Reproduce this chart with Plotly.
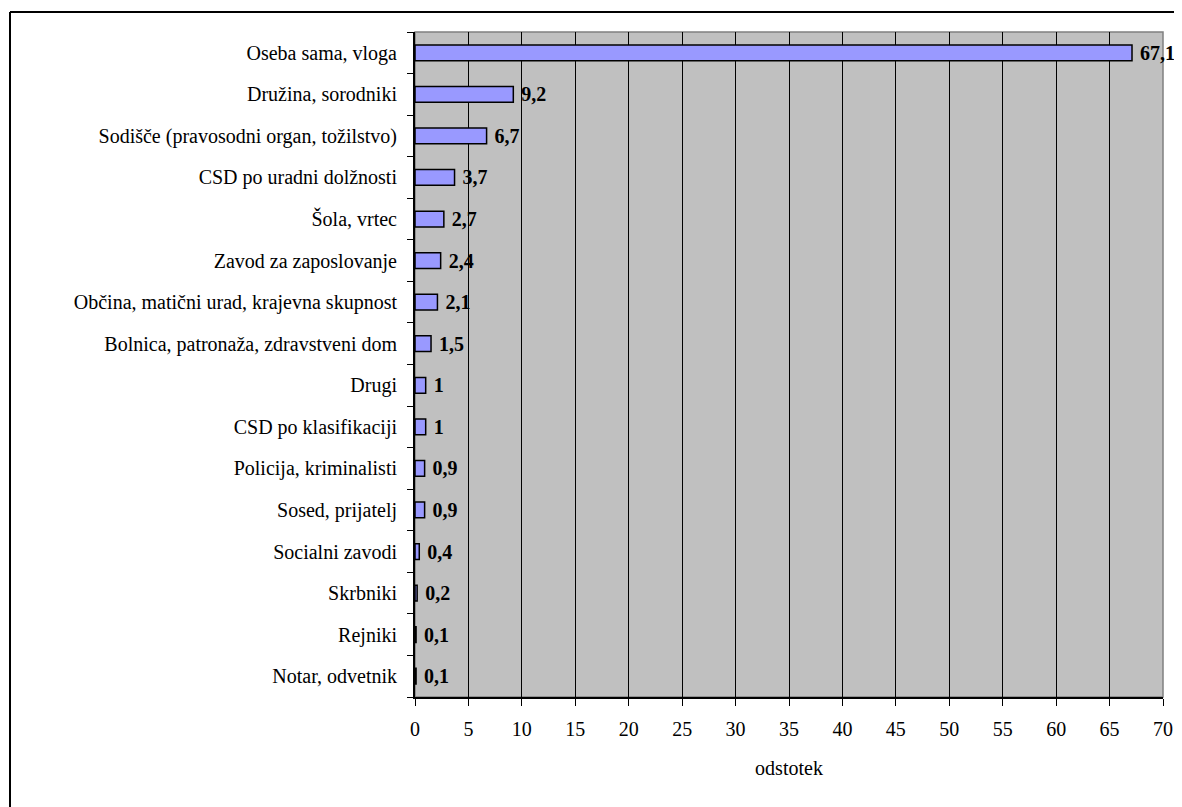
import plotly.graph_objects as go

categories = [
    "Oseba sama, vloga",
    "Družina, sorodniki",
    "Sodišče (pravosodni organ, tožilstvo)",
    "CSD po uradni dolžnosti",
    "Šola, vrtec",
    "Zavod za zaposlovanje",
    "Občina, matični urad, krajevna skupnost",
    "Bolnica, patronaža, zdravstveni dom",
    "Drugi",
    "CSD po klasifikaciji",
    "Policija, kriminalisti",
    "Sosed, prijatelj",
    "Socialni zavodi",
    "Skrbniki",
    "Rejniki",
    "Notar, odvetnik",
]
values = [67.1, 9.2, 6.7, 3.7, 2.7, 2.4, 2.1, 1.5, 1, 1, 0.9, 0.9, 0.4, 0.2, 0.1, 0.1]
value_labels = [("%g" % v).replace(".", ",") for v in values]
x_ticks = list(range(0, 75, 5))
n = len(categories)
boundaries = [i - 0.5 for i in range(n + 1)]

FONT = "Liberation Serif"
FS = 20

# page body has an 8px margin: figure drawn at (8, 8)
W, H = 1174, 799
L, T, PW, PH = 407, 24, 748, 665

fig = go.Figure()
fig.add_trace(go.Bar(
    y=categories,
    x=values,
    orientation="h",
    marker=dict(color="#9999FF", line=dict(color="black", width=1.5)),
    text=[" " + t for t in value_labels],
    textposition="outside",
    constraintext="none",
    textfont=dict(family=FONT, size=FS, color="black", weight="bold"),
    cliponaxis=False,
    width=0.38,
    hoverinfo="x+y",
))
# invisible helper trace so the boundary-tick axis gets drawn
fig.add_trace(go.Scatter(
    x=[0], y=[0], yaxis="y2", mode="markers",
    marker=dict(opacity=0), hoverinfo="skip", showlegend=False,
))

fig.update_layout(
    width=W, height=H,
    margin=dict(l=L, r=W - L - PW, t=T, b=H - T - PH),
    paper_bgcolor="white",
    plot_bgcolor="#C0C0C0",
    showlegend=False,
    font=dict(family=FONT, size=FS, color="black"),
    xaxis=dict(
        range=[0, 70],
        tickvals=x_ticks,
        ticktext=[str(t) for t in x_ticks],
        ticks="outside", ticklen=7, tickcolor="black", tickwidth=1,
        ticklabelstandoff=6,
        showgrid=True, gridcolor="black", gridwidth=1,
        showline=True, linecolor="black", linewidth=2,
        zeroline=False,
        tickfont=dict(family=FONT, size=FS),
        title=dict(text="odstotek", font=dict(family=FONT, size=FS), standoff=22),
        automargin=False,
    ),
    yaxis=dict(
        categoryorder="array", categoryarray=categories,
        range=[n - 0.5, -0.5],
        ticks="", showgrid=False,
        showline=True, linecolor="black", linewidth=2,
        tickfont=dict(family=FONT, size=FS),
        ticklabelstandoff=12,
        automargin=False,
    ),
    yaxis2=dict(
        overlaying="y", side="left",
        range=[n - 0.5, -0.5],
        tickvals=boundaries,
        showticklabels=False,
        ticks="outside", ticklen=7, tickcolor="black", tickwidth=1,
        showgrid=False, zeroline=False, showline=False,
        automargin=False,
    ),
    shapes=[
        dict(type="rect", xref="x domain", yref="y domain", x0=0, x1=1, y0=0, y1=1,
             line=dict(color="#808080", width=1.5), layer="below"),
        dict(type="line", xref="paper", yref="paper", x0=-405 / PW, x1=1.1, y0=1 + 20 / PH, y1=1 + 20 / PH,
             line=dict(color="black", width=2)),
        dict(type="line", xref="paper", yref="paper", x0=-405 / PW, x1=-405 / PW, y0=1 + 20 / PH, y1=-0.3,
             line=dict(color="black", width=2)),
    ],
)

fig.write_html("out.html")
